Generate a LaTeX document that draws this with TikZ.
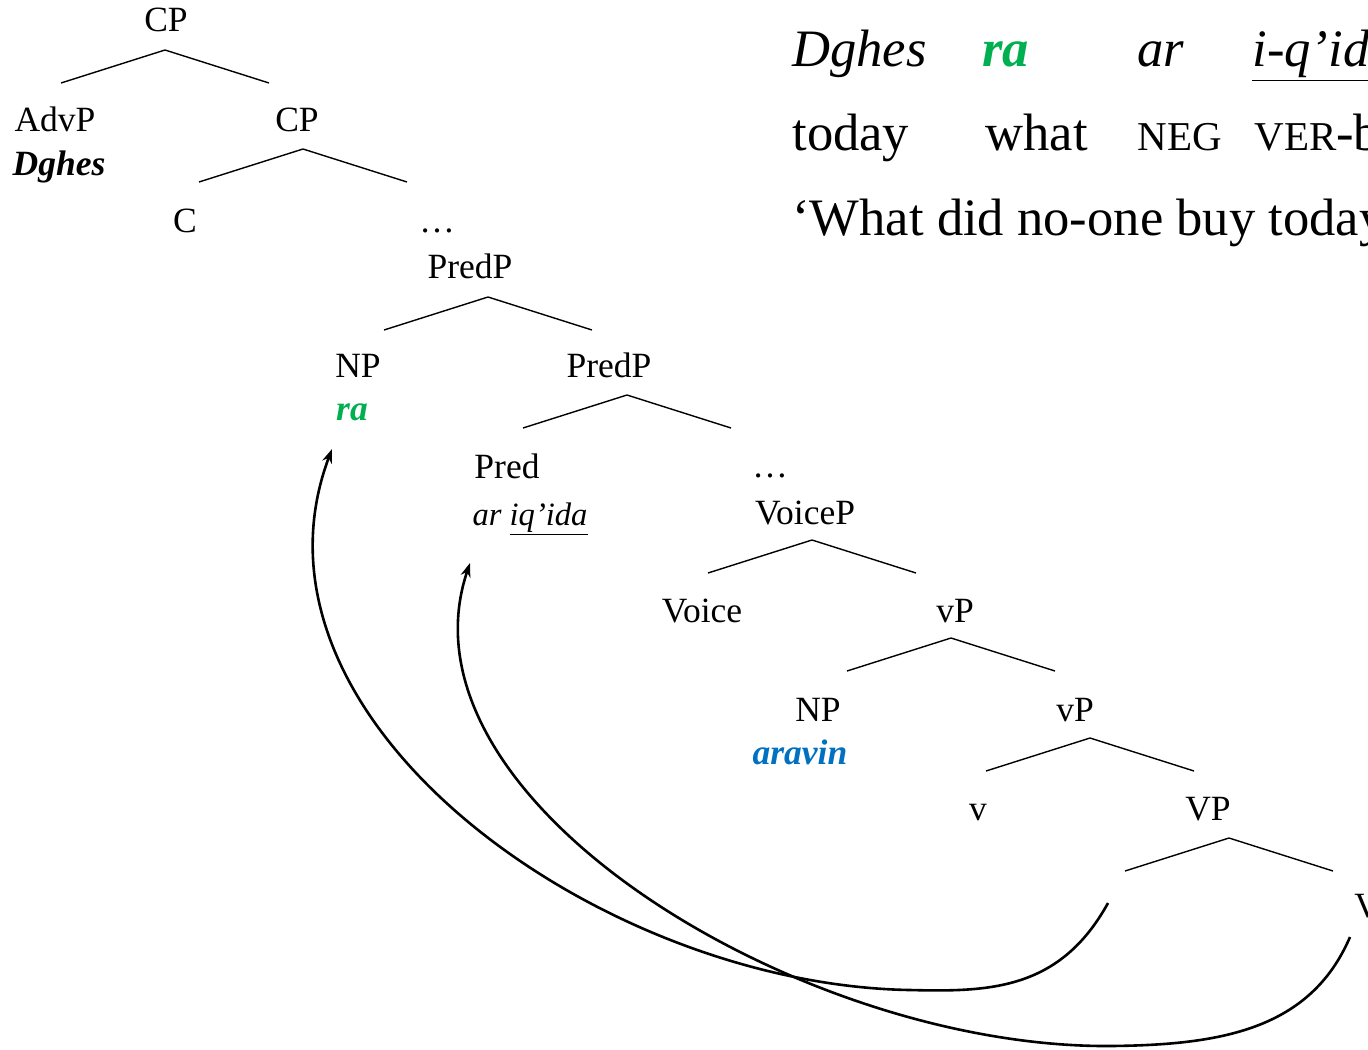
\documentclass[tikz,border=0pt]{standalone}
\usepackage{fontspec}
\setmainfont{Liberation Serif}
\usetikzlibrary{arrows.meta,calc}
\definecolor{wordgreen}{HTML}{00B050}
\definecolor{wordblue}{HTML}{0070C0}
\newcommand{\treefont}{\fontsize{17.75}{20}\selectfont}
\newcommand{\sentfont}{\fontsize{26.3}{30}\selectfont}
\newcommand{\glossfont}{\fontsize{20.5}{24}\selectfont}
% one binary branching below an apex point
\newcommand{\branch}[1]{\draw[branch] ($(#1)+(-104,33)$) -- (#1) -- ($(#1)+(104,33)$);}

\tikzset{
  lbl/.style={anchor=base, inner sep=0pt, font=\treefont},
  leaf/.style={anchor=base, inner sep=0pt, font=\treefont\bfseries\itshape},
  word/.style={anchor=base west, inner sep=0pt, font=\sentfont},
  branch/.style={line width=0.7pt},
  move/.style={line width=1.3pt, -{Stealth[length=7pt,width=5pt]}},
}

\begin{document}
\begin{tikzpicture}[x=0.5pt,y=-0.5pt]
\useasboundingbox (0,0) rectangle (1368,1049);
\clip (0,0) rectangle (1368,1049);

% example sentence
\node[word] (w1) at (792,66) {\itshape Dghes};
\node[word] (w2) at (982,66) {\color{wordgreen}\bfseries\itshape ra};
\node[word] (w3) at (1137,66) {\itshape ar};
\node[word] (w4) at (1252,66) {\itshape\underline{i-q’ida}};
\node[word] (g1) at (792,150) {today};
\node[word] (g2) at (985,150) {what};
\node[word] (g3) at (1137,150) {\glossfont NEG};
\node[word] (g4) at (1254,150) {{\glossfont VER}-buy};
\node[word] (tr) at (792,235) {‘What did no-one buy today?’};

% tree labels
\node[lbl] (cp1) at (166,32) {CP};
\node[lbl] (advp) at (55,131) {AdvP};
\node[leaf] (dghes) at (59,175) {Dghes};
\node[lbl] (cp2) at (297,131) {CP};
\node[lbl] (c) at (185,232) {C};
\node[lbl] (dots1) at (437,232) {…};
\node[lbl] (predp1) at (470,278) {PredP};
\node[lbl] (np1) at (358,377) {NP};
\node[leaf, text=wordgreen] (ra) at (352,420) {ra};
\node[lbl] (predp2) at (609,377) {PredP};
\node[lbl] (pred) at (507,478) {Pred};
\node[lbl, font=\fontsize{16.3}{20}\selectfont\itshape] (ariqida) at (530,525) {ar \underline{iq’ida}};
\node[lbl] (dots2) at (770,477) {…};
\node[lbl] (voicep) at (805,524) {VoiceP};
\node[lbl] (voice) at (702,622) {Voice};
\node[lbl] (vp1) at (955,622) {vP};
\node[lbl] (np2) at (818,721) {NP};
\node[leaf, text=wordblue] (aravin) at (800,764) {aravin};
\node[lbl] (vp2) at (1075,721) {vP};
\node[lbl] (v) at (978,820) {v};
\node[lbl] (vpbig) at (1208,820) {VP};
\node[lbl, anchor=base west] (vhead) at (1354,917) {V};

% branch apexes
\coordinate (cp1-b) at (165,50);
\coordinate (cp2-b) at (303,149);
\coordinate (predp1-b) at (488,297);
\coordinate (predp2-b) at (627,395);
\coordinate (voicep-b) at (812,540);
\coordinate (vp1-b) at (951,638);
\coordinate (vp2-b) at (1090,738);
\coordinate (vpbig-b) at (1229,838);
\foreach \n in {cp1,cp2,predp1,predp2,voicep,vp1,vp2,vpbig}{
  \branch{\n-b}
}

% movement arrows
\coordinate (trace1) at (1108,903);
\coordinate (trace2) at (1350,937);
\coordinate (ra-in) at (332,449);
\coordinate (ar-in) at (470,563);
\draw[move] (trace1) .. controls (1060,990) and (990,992) .. (910,990)
  .. controls (600,985) and (230,720) .. (ra-in);
\draw[move] (trace2) .. controls (1310,1030) and (1220,1045) .. (1110,1046)
  .. controls (800,1048) and (390,800) .. (ar-in);
\end{tikzpicture}
\end{document}
